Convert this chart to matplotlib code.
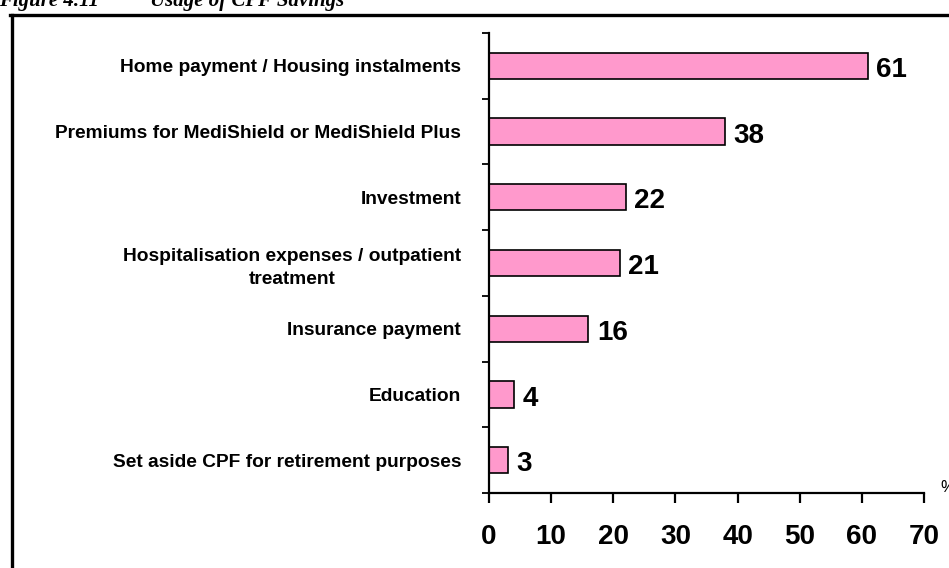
import matplotlib.pyplot as plt
from matplotlib.lines import Line2D

categories = [
    'Home payment / Housing instalments',
    'Premiums for MediShield or MediShield Plus',
    'Investment',
    'Hospitalisation expenses / outpatient\ntreatment',
    'Insurance payment',
    'Education',
    'Set aside CPF for retirement purposes',
]
values = [61, 38, 22, 21, 16, 4, 3]
xticks = [0, 10, 20, 30, 40, 50, 60, 70]

W, H = 949, 568
fig = plt.figure(figsize=(W / 100, H / 100), dpi=100)
plt.rcParams['font.family'] = ['Liberation Sans', 'DejaVu Sans']

# axes box measured in pixels from the reference
ax = fig.add_axes([489 / W, 1 - 493 / H, (924 - 489) / W, (493 - 33) / H])

pos = list(range(len(categories)))
ax.barh(pos, values, height=0.4, color='#ff99cc', edgecolor='black', linewidth=1.2)

# value labels at bar ends
for p, v in zip(pos, values):
    ax.annotate(str(v), (v, p), xytext=(6, -3), textcoords='offset points',
                ha='left', va='center', fontsize=20, fontweight='bold')

ax.set_xlim(0, 70)
ax.set_ylim(len(categories) - 0.5, -0.5)
ax.set_xticks(xticks)
ax.set_xticklabels([str(t) for t in xticks], fontsize=20, fontweight='bold')
ax.tick_params(axis='x', length=7, width=1.6, direction='out', pad=15)

ax.set_yticks(pos)
ax.set_yticklabels(categories, fontsize=13.8, fontweight='bold',
                   multialignment='center', linespacing=1.5)
ax.tick_params(axis='y', which='major', length=0, pad=20)
ax.set_yticks([p - 0.5 for p in pos] + [len(categories) - 0.5], minor=True)
ax.tick_params(axis='y', which='minor', length=5, width=1.3, direction='out')

for s in ['top', 'right']:
    ax.spines[s].set_visible(False)
for s in ['left', 'bottom']:
    ax.spines[s].set_linewidth(1.6)

fig.text(940 / W, 1 - 488 / H, '%', fontsize=12, ha='left', va='center')

# frame around the figure (cut off at right/bottom in the reference)
fig.add_artist(Line2D([11.5 / W, 11.5 / W], [0, 1 - 14.5 / H], color='black', lw=2.4))
fig.add_artist(Line2D([10 / W, 1.01], [1 - 14.5 / H, 1 - 14.5 / H], color='black', lw=2.4))

# caption, only its lower part is visible
fig.text(-1 / W, 1 - 6 / H, 'Figure 4.11', fontsize=15, fontweight='bold', fontstyle='italic',
         family='Liberation Serif', va='baseline', ha='left')
fig.text(150 / W, 1 - 6 / H, 'Usage of CPF Savings', fontsize=15, fontweight='bold', fontstyle='italic',
         family='Liberation Serif', va='baseline', ha='left')

fig.savefig('out.png', dpi=100)
